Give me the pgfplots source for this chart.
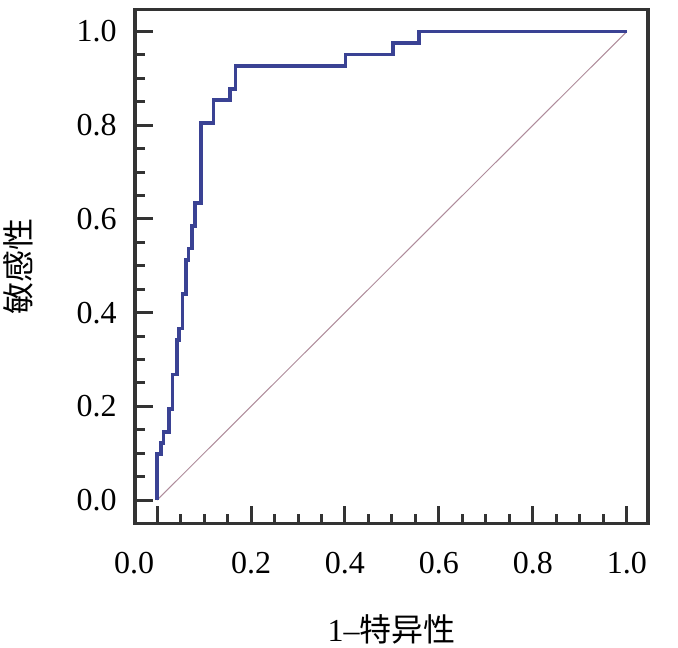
\documentclass[border=0pt]{standalone}
\usepackage{pgfplots}
\pgfplotsset{compat=1.18}
\usepackage{fontspec}
\setmainfont{Liberation Serif}
\newfontfamily\cjk{Noto Sans CJK SC}
\definecolor{roc}{RGB}{58,66,148}
\definecolor{diag}{RGB}{175,140,155}
\definecolor{spine}{RGB}{51,51,51}
\begin{document}
\begin{tikzpicture}
\useasboundingbox (-67.5pt,-61.75pt) rectangle (271.5pt,261.75pt);
\begin{axis}[
  at={(0,0)}, anchor=south west,
  scale only axis, width=256.5pt, height=257pt,
  xmin=-0.047, xmax=1.045, ymin=-0.05, ymax=1.047,
  axis line style={spine, line width=1.7pt},
  tick style={spine, line width=1.5pt},
  tick align=inside,
  xtick pos=bottom, ytick pos=left,
  xtick={0,0.2,0.4,0.6,0.8,1.0}, ytick={0,0.2,0.4,0.6,0.8,1.0},
  xticklabels={{\makebox[0pt]{\hspace*{-23pt}0.0}},0.2,0.4,0.6,0.8,1.0},
  minor tick num=3,
  major tick length=9pt, minor tick length=5pt,
  /pgf/number format/.cd, fixed, fixed zerofill, precision=1, assume math mode=true,
  /pgfplots/.cd,
  tick label style={font=\fontsize{16}{19}\selectfont},
  xticklabel style={anchor=north, inner sep=0pt, yshift=-14pt},
  yticklabel style={anchor=east, inner sep=0pt, xshift=-9pt},
  xlabel={1--{\cjk 特异性}},
  ylabel={{\cjk 敏感性}},
  label style={font=\fontsize{16}{18}\selectfont},
  xlabel style={at={(axis description cs:0.5,0)}, anchor=center, yshift=-53pt},
  ylabel style={at={(axis description cs:0,0.5)}, anchor=center, yshift=58.5pt},
  clip=false,
]
\addplot[diag, line width=0.5pt] coordinates {(0,0) (1,1)};
\addplot[roc, line width=1.9pt, line join=miter] coordinates {
(0,0) (0,0.098) (0.008,0.098) (0.008,0.122) (0.0135,0.122) (0.0135,0.146)
(0.0255,0.146) (0.0255,0.195) (0.033,0.195) (0.033,0.268) (0.042,0.268)
(0.042,0.341) (0.047,0.341) (0.047,0.366) (0.054,0.366) (0.054,0.439)
(0.061,0.439) (0.061,0.512) (0.067,0.512) (0.067,0.537) (0.075,0.537)
(0.075,0.585) (0.081,0.585) (0.081,0.634) (0.094,0.634) (0.094,0.805)
(0.12,0.805) (0.12,0.854) (0.155,0.854) (0.155,0.878) (0.167,0.878)
(0.167,0.927) (0.401,0.927) (0.401,0.951) (0.503,0.951) (0.503,0.976)
(0.558,0.976) (0.558,1) (1,1)};
\end{axis}
\end{tikzpicture}
\end{document}
